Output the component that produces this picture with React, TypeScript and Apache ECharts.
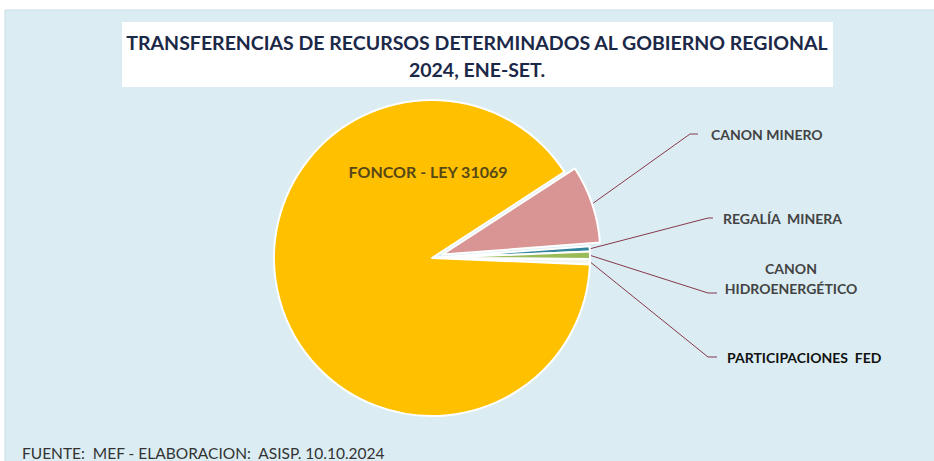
import React, { useEffect, useRef } from "react";
import * as echarts from "echarts";

// ---- data ----
const categories = [
  "CANON MINERO",
  "REGALÍA  MINERA",
  "CANON\nHIDROENERGÉTICO",
  "PARTICIPACIONES  FED",
  "FONCOR - LEY 31069",
];
const shares = [7.97, 0.55, 0.75, 0.55, 90.18];
const sliceColors = ["#d99594", "#31859c", "#9bbb59", "#f3f6ee", "#ffc000"];
const titleLines = [
  "TRANSFERENCIAS DE RECURSOS DETERMINADOS AL GOBIERNO REGIONAL",
  "2024, ENE-SET.",
];
const footerText = "FUENTE:  MEF - ELABORACION:  ASISP. 10.10.2024";

// ---- layout (positions only) ----
const PIE_CENTER = [432, 258];
const PIE_RADIUS = 158;
const START_ANGLE = 33;
const EXPLODE = 11; // offset of the exploded slice (index 0)
type Anchor = { x: number; y: number; align: string; bend?: number[]; end?: number[] };
const labelAnchors: Anchor[] = [
  { x: 711, y: 134, align: "left", bend: [690, 134], end: [698, 134] },
  { x: 723, y: 218, align: "left", bend: [708, 218], end: [713, 218] },
  { x: 791, y: 278, align: "center", bend: [708, 293], end: [717, 293] },
  { x: 727, y: 357, align: "left", bend: [708, 357], end: [717, 357] },
  { x: 428, y: 171, align: "center" },
];

const FONT = "Lato, 'Liberation Sans', sans-serif";

export default function App() {
  const ref = useRef<HTMLDivElement>(null);
  useEffect(() => {
    if (!ref.current) return;
    const chart = echarts.init(ref.current, null, { renderer: "svg" });

    const total = shares.reduce((a, b) => a + b, 0);
    const midDeg = START_ANGLE - (shares[0] / total) * 180;
    const midRad = (midDeg * Math.PI) / 180;
    const ex = EXPLODE * Math.cos(midRad);
    const ey = -EXPLODE * Math.sin(midRad);

    const baseData = categories.map((name, i) => {
      const isFoncor = i === categories.length - 1;
      const item: any = {
        name,
        value: shares[i],
        itemStyle: { color: sliceColors[i] },
      };
      if (i === 0) {
        item.itemStyle = { color: "rgba(0,0,0,0)", borderWidth: 0 };
      }
      if (isFoncor) {
        item.label = {
          position: "inside",
          color: "#574816",
          fontSize: 16,
        };
        item.labelLine = { show: false };
      }
      if (i === 3) {
        item.label = { color: "#111111" };
      }
      return item;
    });

    const explodedData = categories.map((name, i) => ({
      name,
      value: shares[i],
      itemStyle:
        i === 0
          ? { color: sliceColors[i], borderColor: "#ffffff", borderWidth: 2 }
          : { color: "rgba(0,0,0,0)", borderWidth: 0 },
    }));

    chart.setOption({
      animation: false,
      backgroundColor: "#ffffff",
      title: {
        text: titleLines.join("\n"),
        left: 477,
        top: 29,
        padding: 0,
        textAlign: "center",
        textStyle: {
          fontFamily: FONT,
          fontSize: 19.5,
          fontWeight: "bold",
          color: "#1c2848",
          lineHeight: 27,
        },
      },
      graphic: [
        {
          type: "rect",
          z: -10,
          shape: { x: 5, y: 10, width: 935, height: 460 },
          style: { fill: "#dbedf3", stroke: "#c8dde5", lineWidth: 1 },
        },
        {
          type: "rect",
          z: -5,
          shape: { x: 122, y: 22, width: 711, height: 65 },
          style: { fill: "#ffffff" },
        },
        {
          type: "text",
          x: 22,
          y: 445,
          style: {
            text: footerText,
            fontFamily: FONT,
            fontSize: 15.5,
            fill: "#333333",
          },
        },
      ],
      series: [
        {
          type: "pie",
          center: PIE_CENTER,
          radius: PIE_RADIUS,
          startAngle: START_ANGLE,
          clockwise: true,
          avoidLabelOverlap: false,
          emphasis: { disabled: true },
          itemStyle: { borderColor: "#ffffff", borderWidth: 2 },
          label: {
            show: true,
            position: "outside",
            fontFamily: FONT,
            fontWeight: "bold",
            fontSize: 14,
            color: "#434343",
            lineHeight: 20,
            formatter: "{b}",
          },
          labelLine: {
            show: true,
            lineStyle: { color: "#86394a", width: 1 },
          },
          labelLayout: (params: any) => {
            const a = labelAnchors[params.dataIndex];
            if (!a) return {};
            const out: any = {
              x: a.x,
              y: a.y,
              align: a.align,
              verticalAlign: "middle",
            };
            if (a.bend && params.labelLinePoints && params.labelLinePoints[0]) {
              const p0 = params.labelLinePoints[0].slice();
              if (params.dataIndex === 0) {
                p0[0] += ex;
                p0[1] += ey;
              }
              out.labelLinePoints = [p0, a.bend, a.end];
            }
            return out;
          },
          data: baseData,
        },
        {
          type: "pie",
          silent: true,
          center: [PIE_CENTER[0] + ex, PIE_CENTER[1] + ey],
          radius: PIE_RADIUS,
          startAngle: START_ANGLE,
          clockwise: true,
          emphasis: { disabled: true },
          label: { show: false },
          labelLine: { show: false },
          data: explodedData,
        },
      ],
    });
    return () => chart.dispose();
  }, []);
  return (
    <div
      ref={ref}
      style={{ position: "absolute", left: 0, top: 0, width: 934, height: 461 }}
    />
  );
}
